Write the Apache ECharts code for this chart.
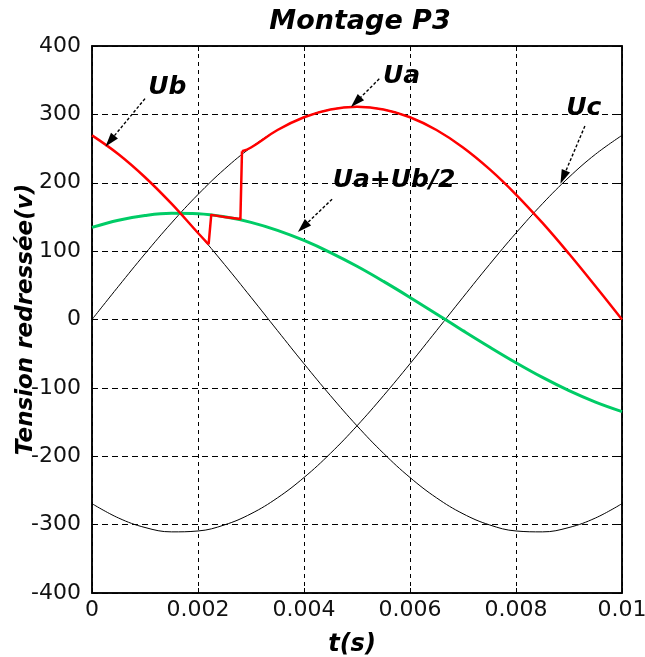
<!DOCTYPE html>
<html>
<head>
<meta charset="utf-8">
<script src="https://cdn.jsdelivr.net/npm/echarts@6/dist/echarts.min.js"></script>
<style>
html,body{margin:0;padding:0;background:#fff;}
#chart{width:645px;height:657px;}
</style>
</head>
<body>
<div id="chart"></div>
<script>
// ---- data ----
const tValues   = [0,0.0005,0.001,0.0015,0.002,0.0025,0.003,0.0035,0.004,0.0045,0.005,0.0055,0.006,0.0065,0.007,0.0075,0.008,0.0085,0.009,0.0095,0.01];
const uaValues  = [0,48.6,96.1,141.2,182.8,219.9,251.6,277.1,295.8,307.2,311,307.2,295.8,277.1,251.6,219.9,182.8,141.2,96.1,48.6,0];
const ubValues  = [269.3,241.7,208.1,169.4,126.5,80.5,32.5,-16.3,-64.7,-111.4,-155.5,-195.7,-231.1,-260.8,-284.1,-300.4,-309.3,-310.6,-304.2,-290.3,-269.3];
const ucValues  = [-269.3,-290.3,-304.2,-310.6,-309.3,-300.4,-284.1,-260.8,-231.1,-195.7,-155.5,-111.4,-64.7,-16.3,32.5,80.5,126.5,169.4,208.1,241.7,269.3];
const uabValues = [134.7,145.2,152.1,155.3,154.6,150.2,142.1,130.4,115.6,97.9,77.8,55.7,32.3,8.1,-16.3,-40.2,-63.2,-84.7,-104.0,-120.8,-134.7];
// red (rectified) curve: follows Ub, then the switching notch, then Ua
const redT      = [0,0.0005,0.001,0.0015,0.002,0.0022,0.00225,0.0025,0.0028,0.00283,0.003,0.0035,0.004,0.0045,0.005,0.0055,0.006,0.0065,0.007,0.0075,0.008,0.0085,0.009,0.0095,0.01];
const redV      = [269.3,241.7,208.1,169.4,126.5,110,153,150,147,246,251.6,277.1,295.8,307.2,311,307.2,295.8,277.1,251.6,219.9,182.8,141.2,96.1,48.6,0];
const redBreaks = [5, 9]; // indices where the red curve switches (vertical jumps)
const xTickLabels = ['0','0.002','0.004','0.006','0.008','0.01'];
const yTickLabels = ['-400','-300','-200','-100','0','100','200','300','400'];
const annoText  = ['Ub','Ua','Ua+Ub/2','Uc'];
const annoAt    = [[0.00142,339],[0.00584,355],[0.0057,203],[0.00928,309]];
const annoFrom  = [[0.001,323],[0.00542,352],[0.00453,176],[0.0093,283]];
const annoTo    = [[0.00034,261],[0.00498,318],[0.00398,135],[0.00889,208]];

const pair = (xs, ys) => xs.map((x, i) => [x, ys[i]]);
const redPts = pair(redT, redV);
const redA = redPts.slice(0, redBreaks[0] + 1);
const redB = redPts.slice(redBreaks[0], redBreaks[1] + 1);
const redC = redPts.slice(redBreaks[1]);

const chart = echarts.init(document.getElementById('chart'), null, {renderer: 'canvas'});
const FONT = 'DejaVu Sans';
const xBase = {type: 'value', min: 0, max: 0.01, interval: 0.002};
const yBase = {type: 'value', min: -400, max: 400, interval: 100};
const lineBase = {type: 'line', showSymbol: false, symbol: 'none', silent: true, animation: false};
const blackLine = Object.assign({}, lineBase, {smooth: 0.4, lineStyle: {color: '#000', width: 1}, z: 2});
const redStyle = {color: '#ff0000', width: 2.5, join: 'round'};

chart.setOption({
  animation: false,
  backgroundColor: '#fff',
  title: {
    text: 'Montage P3', left: 355, top: 3, textAlign: 'center',
    textStyle: {fontFamily: FONT, fontSize: 27, fontWeight: 'bold', fontStyle: 'italic', color: '#000'}
  },
  grid: {left: 92, right: 23, top: 46, bottom: 64, outerBoundsMode: 'none', containLabel: false,
    show: true, borderColor: '#000', borderWidth: 1.5, backgroundColor: 'transparent'},
  xAxis: [
    Object.assign({}, xBase, {
      position: 'bottom',
      name: 't(s)', nameLocation: 'middle', nameGap: 40, nameMoveOverlap: false,
      nameTextStyle: {fontFamily: FONT, fontSize: 24, fontWeight: 'bold', fontStyle: 'italic', color: '#000', padding: [0, 10, 0, 0]},
      axisLine: {show: true, onZero: false, lineStyle: {color: '#000', width: 1.5}},
      axisTick: {show: true, inside: true, length: 5, lineStyle: {color: '#000'}},
      axisLabel: {fontFamily: FONT, fontSize: 22, color: '#111', margin: 6, hideOverlap: false,
        formatter: (v) => xTickLabels[Math.round(v / 0.002)]},
      splitLine: {show: true, lineStyle: {color: '#000', width: 1, type: [4, 4]}}
    }),
    Object.assign({}, xBase, {
      position: 'top',
      axisLine: {show: true, onZero: false, lineStyle: {color: '#000', width: 1.5}},
      axisTick: {show: true, inside: true, length: 5, lineStyle: {color: '#000'}},
      axisLabel: {show: false}, splitLine: {show: false}
    })
  ],
  yAxis: [
    Object.assign({}, yBase, {
      position: 'left',
      name: 'Tension redressée(v)', nameLocation: 'middle', nameGap: 54, nameMoveOverlap: false,
      nameTextStyle: {fontFamily: FONT, fontSize: 23, fontWeight: 'bold', fontStyle: 'italic', color: '#000'},
      axisLine: {show: true, onZero: false, lineStyle: {color: '#000', width: 1.5}},
      axisTick: {show: true, inside: true, length: 5, lineStyle: {color: '#000'}},
      axisLabel: {fontFamily: FONT, fontSize: 22, color: '#111', margin: 11, hideOverlap: false,
        formatter: (v) => yTickLabels[Math.round((v + 400) / 100)]},
      splitLine: {show: true, lineStyle: {color: '#000', width: 1, type: [6, 4]}}
    }),
    Object.assign({}, yBase, {
      position: 'right',
      axisLine: {show: true, onZero: false, lineStyle: {color: '#000', width: 1.5}},
      axisTick: {show: true, inside: true, length: 5, lineStyle: {color: '#000'}},
      axisLabel: {show: false}, splitLine: {show: false}
    })
  ],
  series: [
    Object.assign({}, blackLine, {name: 'Ua', data: pair(tValues, uaValues)}),
    Object.assign({}, blackLine, {name: 'Ub', data: pair(tValues, ubValues)}),
    Object.assign({}, blackLine, {name: 'Uc', data: pair(tValues, ucValues),
      markLine: {
        silent: true, animation: false, symbol: ['none', 'triangle'],
        label: {show: false},
        lineStyle: {color: '#000', width: 1.4, type: [3, 2]},
        data: annoFrom.map((f, i) => [{coord: f, symbol: 'none'}, {coord: annoTo[i], symbol: 'triangle', symbolSize: [9, 14]}])
      },
      markPoint: {
        silent: true, animation: false, symbol: 'circle', symbolSize: 1,
        itemStyle: {color: 'rgba(0,0,0,0)'},
        label: {show: true, position: 'inside', formatter: (p) => p.name,
          fontFamily: FONT, fontSize: 25, fontWeight: 'bold', fontStyle: 'italic', color: '#000'},
        data: annoText.map((s, i) => ({name: s, coord: annoAt[i]}))
      }
    }),
    Object.assign({}, lineBase, {name: 'Ua+Ub/2', smooth: 0.4, z: 3,
      lineStyle: {color: '#00cc66', width: 3}, data: pair(tValues, uabValues)}),
    Object.assign({}, lineBase, {name: 'red1', smooth: 0.4, z: 4, lineStyle: redStyle, data: redA}),
    Object.assign({}, lineBase, {name: 'red2', smooth: false, z: 4, lineStyle: redStyle, data: redB}),
    Object.assign({}, lineBase, {name: 'red3', smooth: 0.4, z: 4, lineStyle: redStyle, data: redC})
  ]
});
</script>
</body>
</html>
